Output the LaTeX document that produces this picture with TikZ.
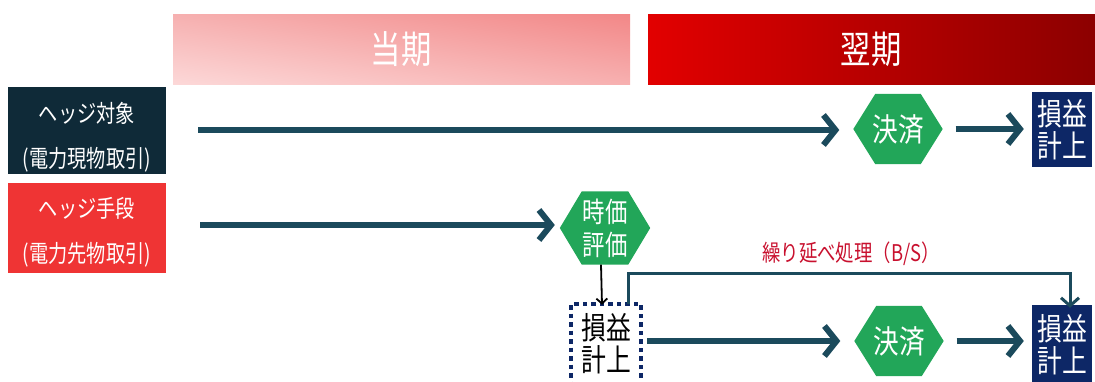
\documentclass[tikz,border=0pt]{standalone}
\usepackage{fontspec}
\setmainfont{Noto Sans CJK JP}[FakeStretch=0.8]
\usetikzlibrary{arrows.meta,backgrounds,shadings}
\definecolor{teal1}{HTML}{1B4A5C}
\definecolor{navy1}{HTML}{0D2766}
\definecolor{dark1}{HTML}{0F2A38}
\definecolor{red1}{HTML}{EF3434}
\definecolor{green1}{HTML}{22A659}
\definecolor{lbl}{HTML}{C8102E}
\definecolor{pk1}{HTML}{FCD8D8}
\definecolor{pk2}{HTML}{F28787}
\definecolor{pk3}{HTML}{F7B0B0}
\definecolor{pk4}{HTML}{F6B0B0}
\definecolor{rd1}{HTML}{E20000}
\definecolor{rd2}{HTML}{8C0000}
\begin{document}
\begin{tikzpicture}[x=1pt,y=-1pt,
  lbox/.style={inner sep=0pt,text=white,font=\fontsize{24}{45}\selectfont,align=center},
  hexa/.style={minimum width=89pt,minimum height=70pt,inner sep=0pt,text=white,align=center},
  plbox/.style={minimum width=60pt,inner sep=0pt,fill=navy1,text=white,font=\fontsize{31}{32}\selectfont,align=center},
  bigarr/.style={teal1,line width=6pt,-{Straight Barb[length=12pt,width=30pt]}},
  thinarr/.style={teal1,line width=3pt,-{Straight Barb[length=8pt,width=18pt]}}]
\useasboundingbox (0,0) rectangle (1095,381);
% period bands
\shade[lower left=pk1,upper right=pk2,lower right=pk3,upper left=pk4] (173,14) rectangle (630,84);
\shade[left color=rd1,right color=rd2] (648,14) rectangle (1095,84);
\node (p1) [text=white,font=\fontsize{38}{40}\selectfont] at (401,49) {当期};
\node (p2) [text=white,font=\fontsize{38}{40}\selectfont] at (871,49) {翌期};
% left labels
\fill[dark1] (8,87) rectangle (166,174);
\fill[red1] (8,183) rectangle (166,273);
\node (obj) [lbox] at (87,137.5) {ヘッジ対象\\(電力現物取引)};
\node (ins) [lbox] at (87,232) {ヘッジ手段\\(電力先物取引)};
% hexagons
\node (s1) [hexa,font=\fontsize{32}{34}\selectfont] at (898,129) {決済};
\node (jk) [hexa,minimum width=90pt,minimum height=73pt,font=\fontsize{28}{33}\selectfont] at (605,228) {時価\\評価};
\node (s2) [hexa,font=\fontsize{32}{34}\selectfont] at (899,341) {決済};
\begin{scope}[on background layer]
\foreach \h in {s1,jk,s2}{
  \fill[green1] (\h.west) -- ([xshift=22pt]\h.north west) -- ([xshift=-22pt]\h.north east) -- (\h.east) -- ([xshift=-22pt]\h.south east) -- ([xshift=22pt]\h.south west) -- cycle;
}
\end{scope}
% P/L boxes
\node (pl1) [plbox,minimum height=75pt] at (1062,129.5) {損益\\計上};
\node (pl2) [plbox,minimum height=80pt] at (1062,345) {損益\\計上};
\node (pl0) [minimum width=70pt,minimum height=80pt,inner sep=0pt,font=\fontsize{31}{32}\selectfont,align=center,draw=navy1,line width=4.5pt,dash pattern=on 4.5pt off 4pt] at (606,344) {損益\\計上};
% arrows
\coordinate (a1s) at (198,130);
\coordinate (a2s) at (200,225);
\draw[bigarr] (a1s) -- ([xshift=-14pt]s1.west |- a1s);
\draw[bigarr] (a2s) -- ([xshift=-5pt]jk.west |- a2s);
\draw[bigarr] ([xshift=13pt]s1.east) -- ([xshift=-8pt]pl1.west |- s1.east);
\draw[bigarr] ([xshift=4pt]pl0.east |- s2.west) -- ([xshift=-14pt]s2.west);
\draw[bigarr] ([xshift=13pt]s2.east) -- ([xshift=-8pt]pl2.west |- s2.east);
\draw[line width=1.8pt,-{Straight Barb[length=5pt,width=11pt]}] ([xshift=-4pt]jk.south) -- ([xshift=-4pt,yshift=-3pt]pl0.north);
\draw[thinarr] ([xshift=22pt,yshift=-2pt]pl0.north) |- (1070,273) -- ([xshift=8pt,yshift=-3pt]pl2.north);
\node (lab) [text=lbl,font=\fontsize{23}{25}\selectfont] at (851,254) {繰り延べ処理（B/S）};
\end{tikzpicture}
\end{document}
